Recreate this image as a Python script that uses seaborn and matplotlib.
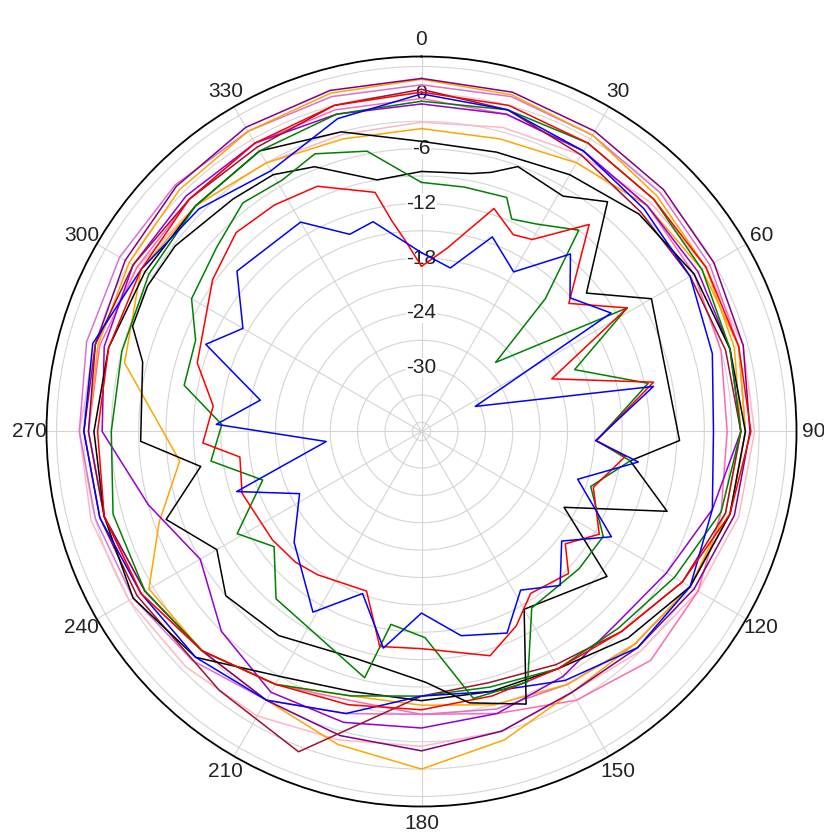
import numpy as np
import pandas as pd
import seaborn as sns
import matplotlib.pyplot as plt

# Radiation pattern data (angle in degrees, level in dB)
blue_in_deg = [0, 10, 20, 30, 40, 48, 58, 65, 79, 93, 98, 107, 119, 128, 138, 148, 157, 169,
               180, 190, 200, 211, 229, 243, 252, 264, 272, 281, 292, 300, 311, 330, 340, 347]
blue_in_db = [-17.4, -18.8, -14.3, -16.8, -11.6, -15.1, -12.5, -30.5, -11.1, -17.9, -13, -19.1,
              -13.2, -17.5, -14.3, -16.5, -13, -14.2, -17.1, -12.9, -18.1, -13.9, -18.5, -22,
              -15.7, -26.5, -14.5, -19, -11.5, -14.4, -10.2, -10.5, -14, -13.4]

red_in_deg = [0, 8, 18, 25, 30, 39, 49, 59, 68, 78, 93, 97, 108, 120, 128, 134, 146, 154, 163,
              180, 191, 199, 216, 224, 234, 251, 262, 267, 277, 287, 306, 317, 327, 337, 349,
              352, 355]
red_in_db = [-18.9, -16.7, -11.3, -13.2, -12.7, -7.8, -15.6, -10.7, -21.6, -11, -17.8, -14.5,
             -17.2, -14.5, -17, -14.6, -15.6, -13.3, -11.3, -13.2, -13, -18.5, -17.6, -17.1,
             -16.8, -16.2, -16.9, -13, -14, -11.3, -8.7, -7.2, -7.4, -7.8, -10.3, -13.7, -15.9]

green_in_deg = [0, 10, 20, 23, 29, 38, 43, 47, 59, 68, 78, 93, 98, 108, 120, 131, 148, 157, 169,
                179, 189, 193, 221, 232, 241, 253, 262, 272, 281, 292, 300, 312, 322, 331, 339,
                349, 356]
green_in_db = [-9.7, -9.8, -9.7, -11.7, -11, -9, -17.1, -25.9, -10.7, -18.9, -11.6, -17.8,
               -13.9, -17.5, -14, -14.1, -14.2, -7.2, -7.2, -14.4, -15.6, -9.3, -12.7, -16.5,
               -13.9, -18.8, -13.7, -15.1, -10.5, -10.3, -7.9, -6.8, -5.2, -5.5, -4.4, -5.7, -8.5]

black_in_deg = [0, 11, 15, 20, 31, 39, 50, 60, 92, 98, 108, 118, 128, 150, 159, 170, 179, 196,
                215, 230, 240, 251, 261, 268, 284, 290, 298, 307, 321, 330, 338, 350]
black_in_db = [-8.5, -8.2, -7.6, -6.1, -6.9, -4.6, -13.4, -7.9, -8.7, -13.9, -8.7, -19.3, -11.2,
               -14.5, -5, -6.8, -9.5, -11.1, -9.7, -9, -11.1, -7.4, -12.5, -6.2, -5.5, -3.3, -3,
               -3.2, -4.2, -4.5, -5.7, -9]

# outer traces, sampled every 15 degrees
outer_deg = list(range(0, 360, 15))
purple_a = [1.7, 1.5, 1.0, 0.5, 0, -0.5, -1, -1.5, -2.5, -3.5, -4, -3, -2, -2.5, -3, -3, -2, -1,
            -0.5, 0, 0.5, 1, 1.5, 1.7]
orange_a = [1.6, 1.2, 0.5, -0.5, -1, -1.5, -2, -2.5, -3, -4, -4, -2, 0, -1.5, -3, -3, -2, -1,
            -0.5, -0.3, 0, 0.5, 1, 1.4]
red_out = [0.2, 0, -0.5, -1, -1, -1, -0.9, -2, -4, -6, -7, -7, -6.5, -6, -5, -3, -1.5, -1, -1.5,
           -1.5, -1.5, -1, -0.5, 0]
blue_out = [0, -0.5, -1.5, -2.5, -3, -4, -5, -4, -3, -3.5, -5.5, -7.5, -8, -5, -3, -2, -1.5, -0.5,
            0, 0.3, -1.5, -2.5, -4, -1.5]
green_out = [-0.8, -0.5, -0.5, -1, -1.5, -2, -2, -3, -5, -6.5, -7, -8, -8, -7, -5, -3, -2, -2, -3,
             -3, -2.5, -2, -1.5, -1]
violet = [-1.1, -1, -1.5, -2, -2, -2, -2, -4, -6, -7, -6, -5, -4.5, -4, -4, -6, -9, -6, -2, -1,
          -0.5, -0.5, -0.5, -1]
pink = [-3.1, -2.5, -2, -1.5, -1, -0.5, -0.5, -1, -2, -3, -4, -3, -2.5, -2, -1, -0.5, 0, 0.5, 0.5,
        0, -1, -2, -3, -3.3]
black_out = [-5.2, -5.3, -4.5, -3.3, -2.5, -2, -1.5, -2, -3, -5, -7, -7.5, -7.5, -7.5, -6, -2,
             -0.5, -1, -1.1, -1.5, -2, -2, -1.5, -3]
hotpink = [-0.5, -1, -1.5, -2, -2.5, -3, -3.5, -3, -2, -1.5, -3, -5, -6, -6.5, -5, -3, -1.5, -1,
           -0.5, -0.5, -1, -1, -0.5, -0.5]
plum = [1, 1, 0.5, 0, -0.5, -1, -1.5, -2, -3, -4, -5, -5.5, -6, -5, -3, -1.5, -0.5, 0, 0.5, 1,
        1.2, 1.2, 1, 1]

# traces with their own sample angles
orange_b_deg = [0, 15, 30, 45, 60, 75, 90, 105, 120, 135, 150, 165, 180, 195, 210, 225, 240, 251,
                263, 283, 300, 315, 330, 345]
orange_b = [-3.8, -3.8, -3, -2, -1.5, -1, -1.5, -2, -3, -4, -5, -6, -7, -7, -5, -3, -2.5, -6.6,
            -10.3, -3.6, -1.5, -2, -3, -3.8]
maroon_deg = [0, 15, 30, 45, 60, 75, 90, 105, 120, 135, 150, 165, 180, 190, 201, 218, 240, 255,
              270, 285, 300, 315, 330, 345]
maroon = [0.5, -0.5, -2, -3, -3, -2.5, -2, -2.5, -4, -6, -7.5, -8.5, -8, -5, 0.6, -1, -1, -0.5, 0,
          0, -0.5, -1, -1, 0]

radial_ticks = [-36, -33, -30, -27, -24, -21, -18, -15, -12, -9, -6, -3, 0, 3]
radial_labels = [0, -6, -12, -18, -24, -30]
angle_labels = list(range(0, 360, 30))

traces = [
    (outer_deg, pink, "#ffb6c1"),
    (outer_deg, plum, "#da70d6"),
    (outer_deg, hotpink, "#ff69b4"),
    (outer_deg, orange_a, "#ffa500"),
    (orange_b_deg, orange_b, "#ffa500"),
    (outer_deg, purple_a, "#800080"),
    (outer_deg, violet, "#9400d3"),
    (maroon_deg, maroon, "#a01030"),
    (outer_deg, black_out, "#000000"),
    (outer_deg, green_out, "#008000"),
    (outer_deg, blue_out, "#0000ff"),
    (outer_deg, red_out, "#ff0000"),
    (black_in_deg, black_in_db, "#000000"),
    (green_in_deg, green_in_db, "#008000"),
    (red_in_deg, red_in_db, "#ff0000"),
    (blue_in_deg, blue_in_db, "#0000ff"),
]

sns.set_style("white")
plt.rcParams['font.family'] = ['Liberation Sans', 'DejaVu Sans']

fig = plt.figure(figsize=(8.24, 8.38), dpi=100)
ax = fig.add_axes([46.5 / 824, 31.5 / 838, 750 / 824, 750 / 838], projection='polar')
ax.set_theta_zero_location('N')
ax.set_theta_direction(-1)
ax.set_rlim(-37, 4.1)

for deg, db, col in traces:
    d = pd.DataFrame({"theta": np.deg2rad(deg + deg[:1]), "r": db + db[:1]})
    sns.lineplot(data=d, x="theta", y="r", ax=ax, sort=False, estimator=None,
                 color=col, lw=1.1, legend=False, zorder=3)

ax.set_xticks(np.deg2rad(angle_labels))
ax.set_xticklabels([])
ax.set_yticks(radial_ticks)
ax.set_yticklabels([])
ax.set_xlabel("")
ax.set_ylabel("")
ax.grid(True, color="#d4d4d4", lw=0.8)
ax.spines['polar'].set_color("black")
ax.spines['polar'].set_linewidth(1.3)

for v in radial_labels:
    ax.text(0, v, str(v), ha="center", va="center", fontsize=15, color="#222222",
            bbox=dict(facecolor="white", edgecolor="none", pad=0.5), zorder=2)

for a in angle_labels:
    t = np.deg2rad(a)
    ax.text(0.5 + 0.523 * np.sin(t), 0.5 + 0.523 * np.cos(t), str(a), transform=ax.transAxes,
            ha="center", va="center", fontsize=15, color="#222222")

fig.savefig("out.png", dpi=100)
